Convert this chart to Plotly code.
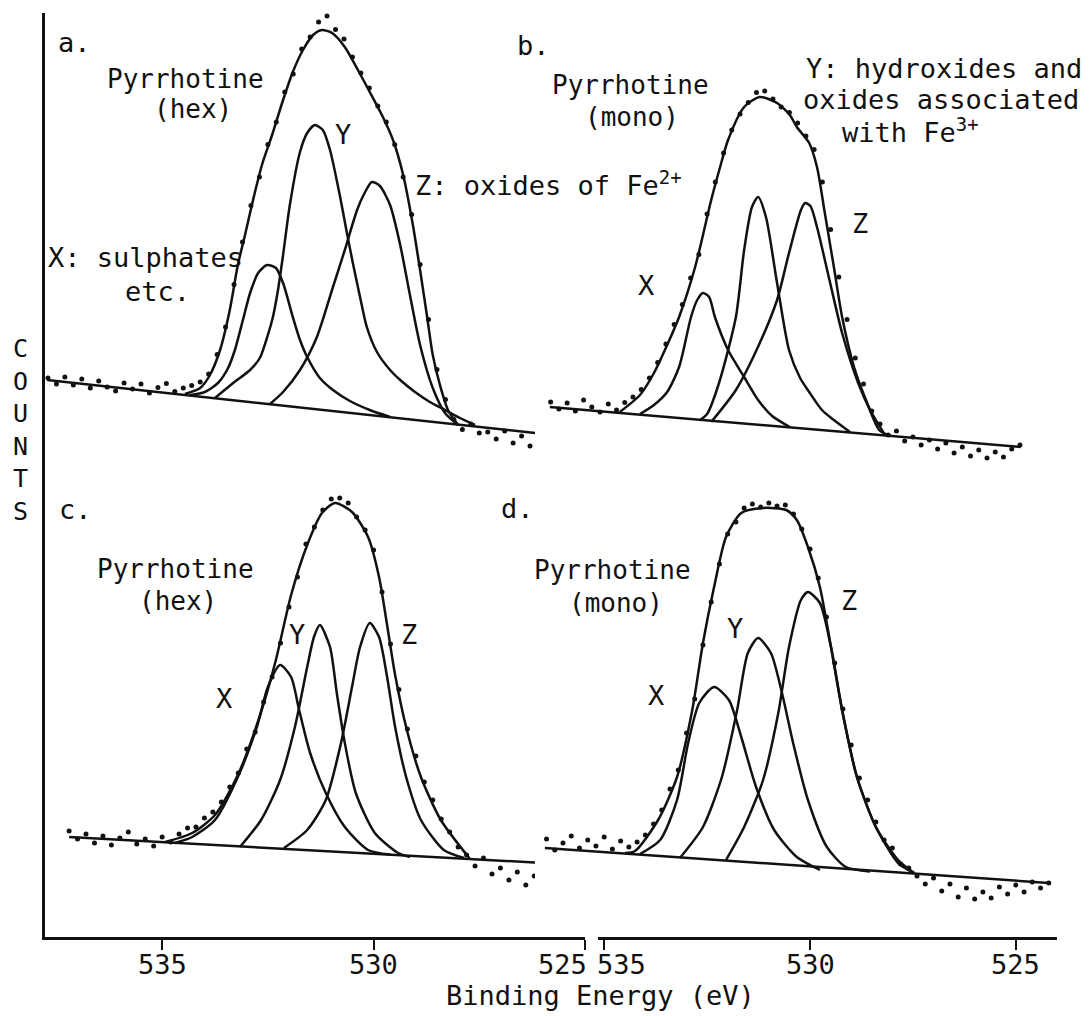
import plotly.graph_objects as go

# ---------------------------------------------------------------------------
# O 1s XPS spectra of pyrrhotine surfaces (counts in arbitrary units).
# Top row spectra (a, b) are stacked above the bottom row (c, d).
# ---------------------------------------------------------------------------
STACK_OFFSET = 90.0

# ---- a. Pyrrhotine (hex) ---------------------------------------------------
A_DATA_EV = [537.7, 537.5, 537.3, 537.1, 536.9, 536.7, 536.5, 536.3, 536.1, 535.9,
             535.7, 535.5, 535.3, 535.1, 534.9, 534.7, 534.5, 534.3, 534.1, 533.9,
             533.7, 533.5, 533.3, 533.1, 532.9, 532.7, 532.5, 532.3, 532.1, 531.9,
             531.7, 531.5, 531.3, 531.1, 530.9, 530.7, 530.5, 530.3, 530.1, 529.9,
             529.7, 529.5, 529.3, 529.1, 528.9, 528.7, 528.5, 528.3, 528.1, 527.9,
             527.7, 527.5, 527.3, 527.1, 526.9, 526.7, 526.5, 526.3, 526.1, 525.9,
             525.7, 525.5, 525.3]
A_DATA_COUNTS = [21.8, 20.6, 22.0, 20.4, 21.6, 19.8, 21.2, 20.0, 19.2, 20.8,
                 19.6, 20.6, 18.8, 19.9, 20.7, 19.1, 19.8, 20.3, 21.0, 22.6,
                 26.5, 32.0, 40.5, 49.0, 56.3, 62.0, 68.5, 73.0, 79.0, 82.6,
                 87.6, 90.0, 93.0, 94.2, 91.5, 89.6, 86.0, 82.8, 79.8, 76.2,
                 73.0, 68.5, 62.0, 54.5, 44.5, 33.5, 23.5, 17.5, 13.5, 11.5,
                 12.6, 10.8, 11.0, 9.6, 11.2, 8.8, 10.2, 8.2, 9.4, 7.6,
                 9.0, 7.2, 8.4]
A_FIT_EV = [534.46, 534.10, 533.87, 533.63, 533.40, 533.21, 533.04, 532.85, 532.64,
            532.40, 532.14, 531.91, 531.67, 531.43, 531.22, 530.98, 530.68, 530.37,
            530.09, 529.78, 529.54, 529.30, 529.07, 528.90, 528.74, 528.60, 528.43,
            528.24, 528.00]
A_FIT_COUNTS = [18.6, 19.8, 22.4, 27.4, 35.4, 44.4, 50.4, 57.4, 64.4,
                70.4, 77.4, 83.0, 87.4, 90.4, 91.4, 90.8, 88.0, 83.4,
                79.0, 74.0, 69.4, 62.4, 52.4, 43.4, 34.4, 26.4, 20.4,
                15.4, 12.4]
A_X_EV = [534.34, 533.99, 533.68, 533.44, 533.28, 533.09, 532.92, 532.73, 532.52,
          532.31, 532.14, 531.91, 531.74, 531.57, 531.27, 530.96, 530.56, 530.09, 529.61]
A_X_COUNTS = [18.4, 19.0, 20.8, 23.8, 27.4, 33.4, 38.8, 42.8, 44.4,
              43.8, 40.8, 34.0, 29.4, 26.0, 21.8, 19.4, 17.2, 15.4, 14.0]
A_Y_EV = [533.75, 533.32, 532.92, 532.69, 532.50, 532.38, 532.26, 532.14, 531.98,
          531.74, 531.57, 531.39, 531.20, 531.03, 530.80, 530.63, 530.49, 530.32,
          530.16, 529.92, 529.61, 529.37, 529.02, 528.67, 528.31, 527.96, 527.60]
A_Y_COUNTS = [17.8, 20.8, 23.4, 25.8, 30.4, 34.0, 39.4, 46.4, 56.4,
              67.0, 70.8, 72.4, 71.4, 67.4, 58.4, 50.8, 44.8, 38.0,
              32.0, 27.0, 23.4, 21.4, 19.0, 17.0, 15.4, 13.8, 12.4]
A_Z_EV = [532.45, 532.14, 531.74, 531.34, 530.96, 530.68, 530.39, 530.20, 530.04,
          529.85, 529.61, 529.37, 529.14, 528.90, 528.60, 528.31, 528.00]
A_Z_COUNTS = [16.6, 19.0, 23.4, 30.0, 40.0, 47.4, 55.4, 59.0, 61.0,
              60.2, 56.4, 48.4, 38.4, 28.4, 19.8, 14.8, 12.4]
A_BASE_EV = [537.72, 525.31]
A_BASE_COUNTS = [21.4, 10.0]

# ---- b. Pyrrhotine (mono) --------------------------------------------------
B_DATA_EV = [536.3, 536.1, 535.9, 535.7, 535.5, 535.3, 535.1, 534.9, 534.7, 534.5,
             534.3, 534.1, 533.9, 533.7, 533.5, 533.3, 533.1, 532.9, 532.7, 532.5,
             532.3, 532.1, 531.9, 531.7, 531.5, 531.3, 531.1, 530.9, 530.7, 530.5,
             530.3, 530.1, 529.9, 529.7, 529.5, 529.3, 529.1, 528.9, 528.7, 528.5,
             528.3, 528.1, 527.9, 527.7, 527.5, 527.3, 527.1, 526.9, 526.7, 526.5,
             526.3, 526.1, 525.9, 525.7, 525.5, 525.3, 525.1, 524.9]
B_DATA_COUNTS = [17.0, 15.6, 16.8, 15.2, 17.4, 16.0, 15.0, 16.6, 15.4, 16.9,
                 18.0, 19.5, 21.8, 24.9, 28.6, 32.5, 36.5, 41.8, 46.5, 54.6,
                 61.0, 66.8, 71.4, 74.6, 76.9, 78.9, 79.2, 77.6, 76.0, 74.9,
                 72.8, 70.2, 67.5, 61.0, 51.5, 42.0, 33.5, 25.8, 20.6, 15.2,
                 12.6, 10.4, 11.2, 9.2, 10.0, 8.4, 9.4, 7.6, 8.8, 6.8,
                 8.0, 6.2, 7.4, 5.8, 7.0, 6.0, 7.6, 8.4]
B_FIT_EV = [534.62, 534.13, 533.79, 533.47, 533.18, 532.79, 532.40, 532.19, 531.99,
            531.60, 531.22, 530.80, 530.49, 530.32, 530.02, 529.83, 529.64, 529.42,
            529.22, 528.93, 528.64, 528.32, 528.05]
B_FIT_COUNTS = [15.0, 18.4, 22.8, 28.4, 34.0, 44.0, 57.4, 63.8, 69.4,
                76.0, 78.0, 76.8, 74.4, 72.0, 68.8, 64.0, 54.8, 44.0,
                34.0, 24.0, 17.4, 11.4, 10.2]
B_X_EV = [534.13, 533.79, 533.47, 533.18, 532.89, 532.74, 532.60, 532.45, 532.31,
          531.99, 531.60, 531.26, 530.92, 530.49]
B_X_COUNTS = [14.6, 16.4, 19.0, 24.0, 34.0, 37.4, 38.8, 38.0, 34.0,
              27.4, 22.0, 17.4, 14.2, 12.0]
B_Y_EV = [532.67, 532.50, 532.21, 531.80, 531.60, 531.41, 531.26, 531.07, 530.80,
          530.51, 530.24, 530.02, 529.71, 529.42, 529.03]
B_Y_COUNTS = [13.4, 14.6, 20.8, 34.0, 47.4, 56.0, 58.0, 54.0, 40.8,
              27.4, 21.8, 19.0, 15.4, 13.4, 11.0]
B_Z_EV = [532.40, 531.80, 531.22, 530.80, 530.51, 530.22, 530.12, 529.99, 529.83,
          529.51, 529.22, 528.83, 528.54, 528.17]
B_Z_COUNTS = [13.0, 19.4, 28.8, 37.4, 46.8, 55.4, 56.8, 56.2, 52.0,
              40.8, 30.8, 20.8, 15.4, 10.3]
B_BASE_EV = [536.32, 524.88]
B_BASE_COUNTS = [16.0, 8.0]

# ---- c. Pyrrhotine (hex) ---------------------------------------------------
C_DATA_EV = [537.2, 537.0, 536.8, 536.6, 536.4, 536.2, 536.0, 535.8, 535.6, 535.4,
             535.2, 535.0, 534.8, 534.6, 534.4, 534.2, 534.0, 533.8, 533.6, 533.4,
             533.2, 533.0, 532.8, 532.6, 532.4, 532.2, 532.0, 531.8, 531.6, 531.4,
             531.2, 531.0, 530.8, 530.6, 530.4, 530.2, 530.0, 529.8, 529.6, 529.4,
             529.2, 529.0, 528.8, 528.6, 528.4, 528.2, 528.0, 527.8, 527.6, 527.4,
             527.2, 527.0, 526.8, 526.6, 526.4, 526.2, 526.0, 525.8, 525.6, 525.4,
             525.2]
C_DATA_COUNTS = [21.2, 19.6, 20.6, 18.8, 20.2, 18.4, 19.8, 21.0, 18.6, 19.6,
                 18.2, 20.0, 19.0, 20.6, 21.8, 22.0, 23.8, 25.0, 27.0, 30.0,
                 32.8, 37.6, 41.0, 47.0, 52.0, 58.8, 66.0, 72.0, 78.6, 82.0,
                 85.4, 87.6, 87.8, 86.8, 84.0, 81.4, 77.4, 69.0, 58.6, 49.5,
                 41.6, 36.2, 31.0, 27.4, 23.6, 21.0, 18.0, 16.4, 14.2, 15.8,
                 12.6, 13.8, 11.4, 13.0, 10.4, 12.2, 9.6, 11.6, 10.0, 12.4,
                 13.6]
C_FIT_EV = [534.93, 534.29, 533.75, 533.21, 532.66, 532.31, 531.95, 531.57, 531.22,
            530.91, 530.51, 530.13, 529.87, 529.68, 529.49, 529.23, 528.88, 528.41, 527.72]
C_FIT_COUNTS = [19.0, 20.8, 24.4, 32.4, 45.0, 55.4, 68.4, 78.4, 84.8,
                86.8, 85.0, 80.0, 72.0, 62.4, 52.4, 42.0, 32.0, 23.4, 15.6]
C_X_EV = [534.70, 534.29, 533.75, 533.21, 532.76, 532.50, 532.21, 531.95, 531.76,
          531.50, 531.13, 530.68, 530.13, 529.61]
C_X_COUNTS = [18.8, 20.0, 23.4, 32.0, 42.0, 50.0, 54.4, 52.0, 45.4,
              36.8, 28.8, 22.0, 17.4, 16.5]
C_Y_EV = [533.16, 532.66, 532.21, 531.86, 531.57, 531.41, 531.27, 531.03, 530.87,
          530.68, 530.42, 529.97, 529.42, 529.14]
C_Y_COUNTS = [18.0, 23.4, 31.4, 42.0, 54.0, 60.0, 62.4, 58.0, 48.8,
              38.8, 28.8, 20.8, 16.8, 16.0]
C_Z_EV = [532.12, 531.57, 531.13, 530.77, 530.51, 530.32, 530.09, 529.87, 529.68,
          529.49, 529.23, 528.88, 528.34, 527.86]
C_Z_COUNTS = [17.8, 21.4, 27.4, 38.8, 50.0, 58.0, 62.8, 60.0, 52.0,
              42.0, 32.0, 23.4, 17.4, 15.8]
C_BASE_EV = [537.20, 525.14]
C_BASE_COUNTS = [20.0, 14.4]

# ---- d. Pyrrhotine (mono) --------------------------------------------------
D_DATA_EV = [536.4, 536.2, 536.0, 535.8, 535.6, 535.4, 535.2, 535.0, 534.8, 534.6,
             534.4, 534.2, 534.0, 533.8, 533.6, 533.4, 533.2, 533.0, 532.8, 532.6,
             532.4, 532.2, 532.0, 531.8, 531.6, 531.4, 531.2, 531.0, 530.8, 530.6,
             530.4, 530.2, 530.0, 529.8, 529.6, 529.4, 529.2, 529.0, 528.8, 528.6,
             528.4, 528.2, 528.0, 527.8, 527.6, 527.4, 527.2, 527.0, 526.8, 526.6,
             526.4, 526.2, 526.0, 525.8, 525.6, 525.4, 525.2, 525.0, 524.8, 524.6,
             524.4, 524.2]
D_DATA_COUNTS = [19.6, 17.4, 18.8, 20.2, 17.8, 19.4, 18.2, 20.0, 17.6, 19.2,
                 18.0, 19.0, 20.4, 22.6, 25.4, 29.6, 33.4, 40.8, 47.6, 58.4,
                 67.0, 74.6, 80.6, 83.0, 85.8, 86.6, 86.0, 86.8, 86.2, 86.4,
                 84.6, 81.6, 77.6, 71.8, 64.0, 54.8, 45.6, 38.4, 31.8, 27.4,
                 23.0, 19.4, 17.8, 14.6, 13.8, 12.2, 10.6, 11.8, 9.2, 10.6,
                 8.0, 9.8, 7.6, 9.0, 7.8, 10.0, 8.6, 10.4, 9.0, 11.0,
                 9.8, 10.8]
D_FIT_EV = [534.49, 534.25, 533.69, 533.23, 532.86, 532.60, 532.33, 532.04, 531.67,
            531.14, 530.58, 530.32, 530.05, 529.76, 529.49, 529.22, 528.86, 528.40,
            527.86, 527.47]
D_FIT_COUNTS = [16.8, 17.2, 23.4, 32.0, 45.4, 58.8, 70.0, 80.0, 84.8,
                85.8, 85.4, 83.4, 78.0, 70.0, 58.0, 45.4, 32.0, 22.0,
                15.4, 12.8]
D_X_EV = [534.13, 533.64, 533.23, 532.96, 532.69, 532.33, 531.97, 531.67, 531.31,
          530.87, 530.32, 529.76]
D_X_COUNTS = [16.6, 19.4, 27.4, 38.8, 46.8, 50.0, 47.4, 40.0, 30.0,
              21.4, 16.0, 13.4]
D_Y_EV = [533.16, 532.60, 532.14, 531.77, 531.51, 531.26, 530.95, 530.68, 530.41,
          530.05, 529.59, 529.13, 528.54]
D_Y_COUNTS = [15.8, 22.0, 32.0, 45.4, 56.8, 59.8, 56.8, 48.8, 38.8,
              27.4, 18.0, 14.0, 13.1]
D_Z_EV = [532.04, 531.60, 531.14, 530.77, 530.51, 530.22, 530.05, 529.76, 529.49,
          529.22, 528.86, 528.40, 527.86, 527.47]
D_Z_COUNTS = [15.4, 22.0, 31.4, 44.8, 58.0, 67.4, 69.0, 66.8, 58.0,
              45.4, 32.0, 22.0, 14.8, 12.8]
D_BASE_EV = [536.44, 524.20]
D_BASE_COUNTS = [17.8, 10.8]

X_TICKS = [535, 530, 525]

# ---------------------------------------------------------------------------
INK = "#111111"
FONT = "DejaVu Sans Mono"

PANELS = [
    # (data, fit, components, baseline, x axis, vertical offset)
    ((A_DATA_EV, A_DATA_COUNTS), (A_FIT_EV, A_FIT_COUNTS),
     [(A_X_EV, A_X_COUNTS), (A_Y_EV, A_Y_COUNTS), (A_Z_EV, A_Z_COUNTS)],
     (A_BASE_EV, A_BASE_COUNTS), "x", STACK_OFFSET),
    ((B_DATA_EV, B_DATA_COUNTS), (B_FIT_EV, B_FIT_COUNTS),
     [(B_X_EV, B_X_COUNTS), (B_Y_EV, B_Y_COUNTS), (B_Z_EV, B_Z_COUNTS)],
     (B_BASE_EV, B_BASE_COUNTS), "x3", STACK_OFFSET),
    ((C_DATA_EV, C_DATA_COUNTS), (C_FIT_EV, C_FIT_COUNTS),
     [(C_X_EV, C_X_COUNTS), (C_Y_EV, C_Y_COUNTS), (C_Z_EV, C_Z_COUNTS)],
     (C_BASE_EV, C_BASE_COUNTS), "x", 0.0),
    ((D_DATA_EV, D_DATA_COUNTS), (D_FIT_EV, D_FIT_COUNTS),
     [(D_X_EV, D_X_COUNTS), (D_Y_EV, D_Y_COUNTS), (D_Z_EV, D_Z_COUNTS)],
     (D_BASE_EV, D_BASE_COUNTS), "x3", 0.0),
]

fig = go.Figure()

for data, fit, comps, base, xa, off in PANELS:
    curves = [base] + comps + [fit]
    for ev, cts in curves:
        assert len(ev) == len(cts)
        fig.add_trace(go.Scatter(
            x=ev, y=[c + off for c in cts], xaxis=xa, yaxis="y",
            mode="lines", line=dict(color=INK, width=2.5, shape="spline", smoothing=0.7),
            hoverinfo="skip"))
    ev, cts = data
    assert len(ev) == len(cts)
    fig.add_trace(go.Scatter(
        x=ev, y=[c + off for c in cts], xaxis=xa, yaxis="y",
        mode="markers", marker=dict(color=INK, size=5, symbol="circle"),
        cliponaxis=False, hoverinfo="skip"))

# placeholder trace so the right-hand energy axis gets its own subplot
fig.add_trace(go.Scatter(x=[530], y=[-10], xaxis="x2", yaxis="y", mode="markers",
                         marker=dict(size=1, color="white"), hoverinfo="skip"))

# layout geometry (pixels)
W, H = 1090, 1016
L, R, T, B = 45, 33, 13, 79
PW, PH = W - L - R, H - T - B


def paper(px, py):
    return (px - L) / PW, (H - B - py) / PH


axis_style = dict(
    showline=True, linecolor=INK, linewidth=3, mirror=False,
    ticks="outside", ticklen=10, tickwidth=2, tickcolor=INK,
    tickvals=X_TICKS, showticklabels=False,
    showgrid=False, zeroline=False, anchor="y", fixedrange=True,
)

fig.update_layout(
    width=W, height=H,
    margin=dict(l=L, r=R, t=T, b=B),
    paper_bgcolor="white", plot_bgcolor="white",
    showlegend=False,
    xaxis=dict(domain=[0, 540 / PW], range=[537.77, 525.0], **axis_style),
    xaxis2=dict(domain=[553 / PW, 1], range=[535.15, 524.0], **axis_style),
    xaxis3=dict(domain=[490 / PW, 1], range=[536.68, 524.0], visible=False,
                anchor="y", fixedrange=True),
    yaxis=dict(domain=[0, 1], range=[0, PH / 5.0], showline=True, linecolor=INK,
               linewidth=3, ticks="", showticklabels=False, showgrid=False,
               zeroline=False, anchor="x", fixedrange=True),
)

# tick labels: the two labels that meet at the axis break are pushed apart
_, tick_y = paper(0, 964)
for axis in ("x", "x2"):
    for t in X_TICKS:
        anchor, shift = "center", 0
        if axis == "x" and t == X_TICKS[-1]:
            anchor, shift = "right", 4
        if axis == "x2" and t == X_TICKS[0]:
            anchor, shift = "left", -9
        fig.add_annotation(x=t, y=tick_y, xref=axis, yref="paper", text=str(t),
                           showarrow=False, xanchor=anchor, yanchor="middle",
                           xshift=shift,
                           font=dict(family=FONT, size=27, color=INK))

LABELS = [
    # panel a
    ("a.", 74, 42, "center", 27),
    ("Pyrrhotine", 185, 79, "center", 26),
    ("(hex)", 193, 109, "center", 26),
    ("Y", 343, 134, "center", 27),
    ("X: sulphates", 145, 257, "center", 27),
    ("etc.", 157, 291, "center", 27),
    ("Z: oxides of Fe<sup>2+</sup>", 413, 183, "left", 27),
    # panel b
    ("b.", 533, 45, "center", 27),
    ("Pyrrhotine", 630, 85, "center", 26),
    ("(mono)", 632, 117, "center", 26),
    ("Y: hydroxides and", 944, 68, "center", 27),
    ("oxides associated", 941, 100, "center", 27),
    ("with Fe<sup>3+</sup>", 840, 130, "left", 27),
    ("X", 646, 285, "center", 27),
    ("Z", 860, 223, "center", 27),
    # panel c
    ("c.", 75, 510, "center", 27),
    ("Pyrrhotine", 175, 569, "center", 26),
    ("(hex)", 178, 601, "center", 26),
    ("X", 224, 698, "center", 27),
    ("Y", 297, 634, "center", 27),
    ("Z", 409, 634, "center", 27),
    # panel d
    ("d.", 517, 508, "center", 27),
    ("Pyrrhotine", 612, 570, "center", 26),
    ("(mono)", 616, 603, "center", 26),
    ("X", 656, 695, "center", 27),
    ("Y", 735, 628, "center", 27),
    ("Z", 849, 600, "center", 27),
    # axis title
    ("Binding Energy (eV)", 600, 995, "center", 27),
]

for text, px, py, anchor, size in LABELS:
    ax, ay = paper(px, py)
    fig.add_annotation(x=ax, y=ay, xref="paper", yref="paper", text=text,
                       showarrow=False, xanchor=anchor, yanchor="middle",
                       font=dict(family=FONT, size=size, color=INK))

cx, cy = paper(20, 430)
fig.add_annotation(x=cx, y=cy, xref="paper", yref="paper",
                   text="C<br>O<br>U<br>N<br>T<br>S", showarrow=False,
                   xanchor="center", yanchor="middle", align="center",
                   font=dict(family=FONT, size=25, color=INK))

fig.write_html("out.html")
